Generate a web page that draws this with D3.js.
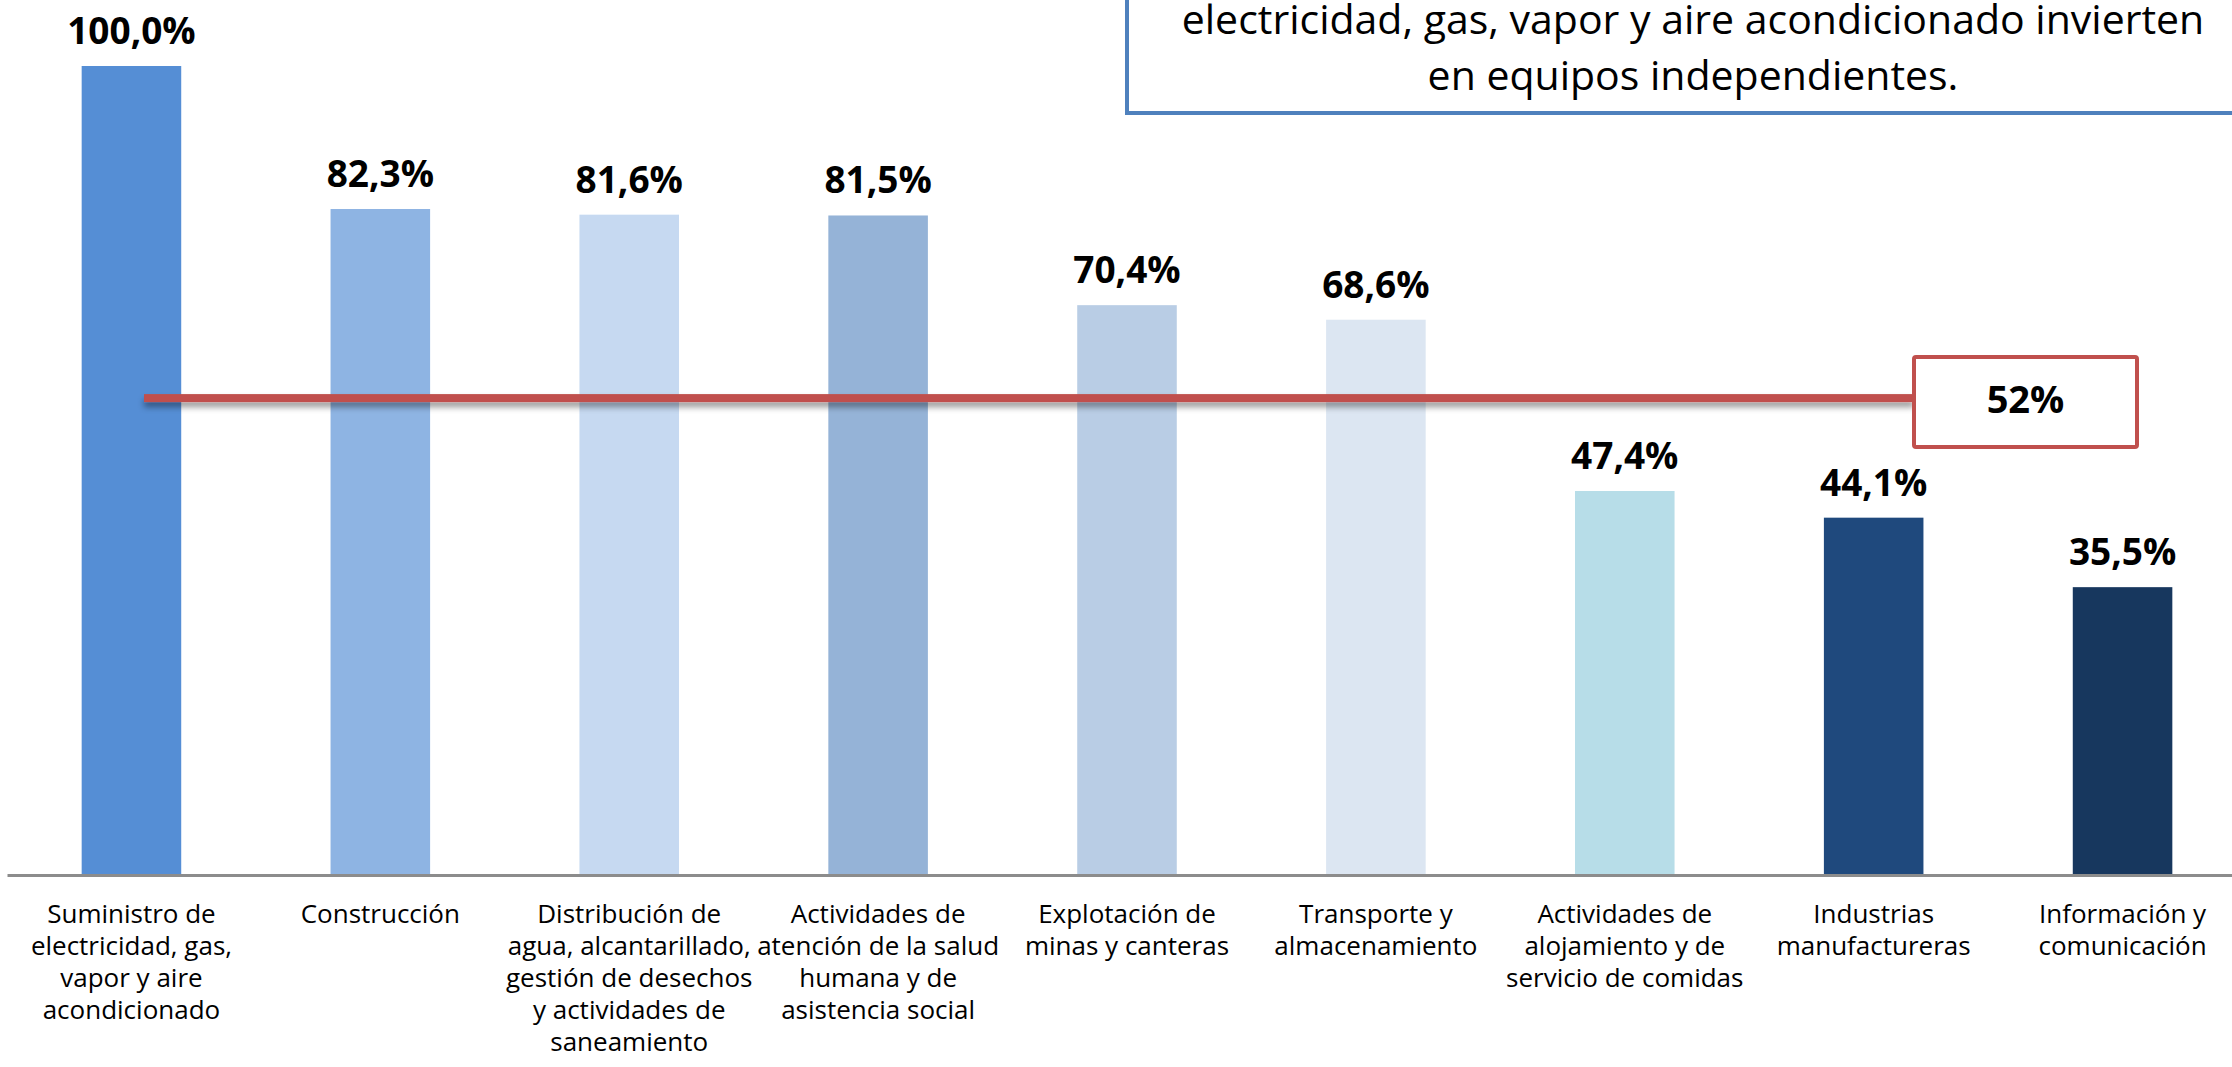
<!DOCTYPE html>
<html>
<head>
<meta charset="utf-8">
<script src="https://cdn.jsdelivr.net/npm/d3@7"></script>
<style>
  body { margin: 0; background: #fff; }
  svg { display: block; }
</style>
</head>
<body>
<script>
//Width and height
var w = 2232;
var h = 1067;

//Data
var categories = [
  "Suministro de electricidad, gas, vapor y aire acondicionado",
  "Construcción",
  "Distribución de agua, alcantarillado, gestión de desechos y actividades de saneamiento",
  "Actividades de atención de la salud humana y de asistencia social",
  "Explotación de minas y canteras",
  "Transporte y almacenamiento",
  "Actividades de alojamiento y de servicio de comidas",
  "Industrias manufactureras",
  "Información y comunicación"
];

//tick labels, broken the same way as in the original
var tickLines = [
  ["Suministro de", "electricidad, gas,", "vapor y aire", "acondicionado"],
  ["Construcción"],
  ["Distribución de", "agua, alcantarillado,", "gestión de desechos", "y actividades de", "saneamiento"],
  ["Actividades de", "atención de la salud", "humana y de", "asistencia social"],
  ["Explotación de", "minas y canteras"],
  ["Transporte y", "almacenamiento"],
  ["Actividades de", "alojamiento y de", "servicio de comidas"],
  ["Industrias", "manufactureras"],
  ["Información y", "comunicación"]
];

var values = [100.0, 82.3, 81.6, 81.5, 70.4, 68.6, 47.4, 44.1, 35.5];

var barColors = [
  "#558ed5", "#8eb4e3", "#c6d9f1", "#95b3d7", "#b9cde5",
  "#dce6f2", "#b7dde8", "#1f497d", "#17375e"
];

//average line: labelled 52%, but placed by hand at about 59 on the bar scale
var averageText = "52%";
var averageLevel = 58.9;

var noteLines = [
  "electricidad, gas, vapor y aire acondicionado invierten",
  "en equipos independientes."
];

var esLocale = d3.formatLocale({
  decimal: ",",
  thousands: ".",
  grouping: [3],
  currency: ["", " €"]
});
var fmt = esLocale.format(".1f");

//Scales
var xScale = d3
  .scaleBand()
  .domain(categories)
  .range([7, 2247])
  .paddingInner(0.6)
  .paddingOuter(0.3);

var yScale = d3.scaleLinear().domain([0, 100]).range([874, 66]);

var colorScale = d3.scaleOrdinal().domain(categories).range(barColors);

//Create SVG element
var svg = d3.select("body").append("svg").attr("width", w).attr("height", h);

var defs = svg.append("defs");
var shadow = defs
  .append("filter")
  .attr("id", "lineShadow")
  .attr("filterUnits", "userSpaceOnUse")
  .attr("x", 0)
  .attr("y", 0)
  .attr("width", w)
  .attr("height", h);
shadow
  .append("feDropShadow")
  .attr("dx", 0)
  .attr("dy", 5)
  .attr("stdDeviation", 3)
  .attr("flood-color", "#000")
  .attr("flood-opacity", 0.4);

//Create bars
svg
  .selectAll("rect.bar")
  .data(values)
  .enter()
  .append("rect")
  .attr("class", "bar")
  .attr("x", function (d, i) {
    return xScale(categories[i]);
  })
  .attr("y", function (d) {
    return yScale(d);
  })
  .attr("width", xScale.bandwidth())
  .attr("height", function (d) {
    return yScale(0) - yScale(d);
  })
  .attr("fill", function (d, i) {
    return colorScale(categories[i]);
  });

//Value labels
svg
  .selectAll("text.value")
  .data(values)
  .enter()
  .append("text")
  .attr("class", "value")
  .text(function (d) {
    return fmt(d) + "%";
  })
  .attr("text-anchor", "middle")
  .attr("x", function (d, i) {
    return xScale(categories[i]) + xScale.bandwidth() / 2;
  })
  .attr("y", function (d) {
    return yScale(d) - 22;
  })
  .attr("font-family", "'Open Sans', sans-serif")
  .attr("font-weight", "bold")
  .attr("font-size", "37px")
  .attr("fill", "#000");

//X axis
var xAxis = d3.axisBottom(xScale).tickSize(0).tickSizeOuter(0);
var axisG = svg
  .append("g")
  .attr("transform", "translate(0," + 875 + ")")
  .call(xAxis);

axisG.select(".domain").attr("stroke", "#8c8c8c").attr("stroke-width", 3);

axisG
  .selectAll(".tick text")
  .attr("y", 48)
  .attr("dy", null)
  .attr("font-family", "'Open Sans', sans-serif")
  .attr("font-size", "26px")
  .attr("fill", "#000")
  .text(null)
  .each(function (d, i) {
    var t = d3.select(this);
    tickLines[i].forEach(function (line, j) {
      t.append("tspan")
        .attr("x", 0)
        .attr("y", 48 + j * 32)
        .text(line);
    });
  });

//Average line and its box
var boxLeft = 1914;
var boxRight = 2137;
var lineY = yScale(averageLevel);

svg
  .append("rect")
  .attr("x", 144)
  .attr("y", lineY - 4)
  .attr("width", boxLeft - 144)
  .attr("height", 8)
  .attr("fill", "#c0504d")
  .attr("filter", "url(#lineShadow)");

svg
  .append("rect")
  .attr("x", boxLeft)
  .attr("y", 357)
  .attr("width", boxRight - boxLeft)
  .attr("height", 90)
  .attr("rx", 2)
  .attr("fill", "#fff")
  .attr("stroke", "#c0504d")
  .attr("stroke-width", 4);

svg
  .append("text")
  .text(averageText)
  .attr("x", (boxLeft + boxRight) / 2)
  .attr("y", 413)
  .attr("text-anchor", "middle")
  .attr("font-family", "'Open Sans', sans-serif")
  .attr("font-weight", "bold")
  .attr("font-size", "38px")
  .attr("fill", "#000");

//Note box in the top right corner
svg
  .append("rect")
  .attr("x", 1127)
  .attr("y", -20)
  .attr("width", 1140)
  .attr("height", 133)
  .attr("fill", "#fff")
  .attr("stroke", "#4f81bd")
  .attr("stroke-width", 4);

svg
  .selectAll("text.note")
  .data(noteLines)
  .enter()
  .append("text")
  .attr("class", "note")
  .text(function (d) {
    return d;
  })
  .attr("x", 1693)
  .attr("y", function (d, i) {
    return 34 + i * 56;
  })
  .attr("text-anchor", "middle")
  .attr("font-family", "'Open Sans', sans-serif")
  .attr("font-size", "41px")
  .attr("fill", "#000");
</script>
</body>
</html>
